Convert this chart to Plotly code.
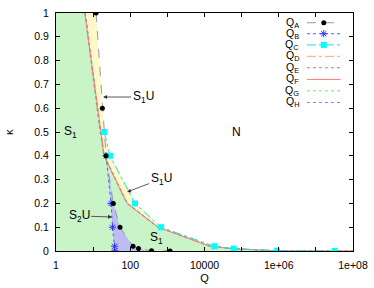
import math
import plotly.graph_objects as go

# ---------------- data ----------------
kappa_A = [1, 0.6, 0.4, 0.2, 0.1, 0.02, 0.01, 0.001, 0.0005]
Q_A = [12, 17.7, 22.3, 35, 53, 119, 167, 375, 1180]

kappa_B = [0.4, 0.2, 0.1, 0.02, 0.001]
Q_B = [22.3, 30.4, 33.3, 37.7, 38.5]

kappa_C = [0.5, 0.4, 0.2, 0.1, 0.02, 0.01, 0.001, 0.0005]
Q_C = [20, 28.5, 134, 675, 18500, 61000, 8.9e5, 3.2e7]

kappa_S = [1, 0.6, 0.5, 0.4, 0.2, 0.1, 0.02, 0.01, 0.001, 0]
Q_D = [6.0, 13.0, 15.4, 19.6, 81, 550, 13800, 54000, 7.9e5, 1e8]
Q_E = [6.1, 13.2, 15.6, 19.8, 83, 565, 14200, 56000, 8.1e5, 1e8]
Q_F = [6.0, 13.1, 15.5, 19.7, 82, 560, 14000, 55000, 8.0e5, 1e8]
Q_G = [5.9, 12.9, 15.3, 19.5, 80, 545, 13600, 53000, 7.8e5, 1e8]
Q_H = [6.2, 13.3, 15.7, 20.0, 84, 575, 14400, 57000, 8.2e5, 1e8]

x_tickvals = [1, 10, 100, 1e3, 1e4, 1e5, 1e6, 1e7, 1e8]
x_ticktext = ["1", "", "100", "", "10000", "", "1e+06", "", "1e+08"]
y_tickvals = [0, 0.1, 0.2, 0.3, 0.4, 0.5, 0.6, 0.7, 0.8, 0.9, 1]
y_ticktext = ["0", "0.1", "0.2", "0.3", "0.4", "0.5", "0.6", "0.7", "0.8", "0.9", "1"]

Q_MIN = 1

FONT = "Liberation Sans, Arial, sans-serif"

fig = go.Figure()

# ---------------- regions ----------------
gx = [Q_MIN] + Q_F + [Q_MIN]
gy = [1] + kappa_S + [0]
fig.add_trace(go.Scatter(x=gx, y=gy, fill="toself", fillcolor="#c8f4c8",
                         mode="none", hoverinfo="skip", showlegend=False))

bd_x = [q for q, k in zip(Q_F, kappa_S) if k > 0]
bd_y = [k for k in kappa_S if k > 0]
right_x = [q for q, k in zip(Q_A, kappa_A) if k > 0.5] + Q_C
right_y = [k for k in kappa_A if k > 0.5] + kappa_C
fig.add_trace(go.Scatter(x=bd_x + right_x[::-1], y=bd_y + right_y[::-1],
                         fill="toself", fillcolor="#fcf8c8",
                         mode="none", hoverinfo="skip", showlegend=False))

low_A = [(q, k) for q, k in zip(Q_A, kappa_A) if k <= 0.4 and q < 1000]
bx = Q_B + [q for q, k in low_A][::-1]
by = kappa_B + [k for q, k in low_A][::-1]
fig.add_trace(go.Scatter(x=bx, y=by, fill="toself", fillcolor="#bcbcf2",
                         mode="none", hoverinfo="skip", showlegend=False))

# ---------------- series ----------------
styles = {
    "A": dict(color="#9a9a9a", dash="dash", width=1),
    "B": dict(color="#5a5aff", dash="dot", width=1),
    "C": dict(color="#22dddd", dash="dashdot", width=1),
    "D": dict(color="#ffa080", dash="dashdot", width=1),
    "E": dict(color="#909090", dash="dot", width=1),
    "F": dict(color="#ff7878", dash="solid", width=1),
    "G": dict(color="#66ee66", dash="dot", width=1),
    "H": dict(color="#8080ff", dash="dot", width=1),
}
markers = {
    "A": dict(symbol="circle", size=5, color="black"),
    "B": dict(symbol="asterisk-open", size=6, color="#3030ff", line=dict(color="#3030ff", width=1)),
    "C": dict(symbol="square", size=6, color="#00ffff"),
}

for name, qx, ky in [("E", Q_E, kappa_S), ("D", Q_D, kappa_S), ("G", Q_G, kappa_S),
                     ("H", Q_H, kappa_S), ("F", Q_F, kappa_S)]:
    fig.add_trace(go.Scatter(x=qx, y=ky, mode="lines", line=styles[name],
                             showlegend=False, hoverinfo="skip"))

for name, qx, ky in [("B", Q_B, kappa_B), ("C", Q_C, kappa_C), ("A", Q_A, kappa_A)]:
    fig.add_trace(go.Scatter(x=qx, y=ky, mode="lines+markers", line=styles[name],
                             marker=markers[name], showlegend=False, hoverinfo="skip"))

# ---------------- manual legend (gnuplot style: text then sample) ----------------
names = ["A", "B", "C", "D", "E", "F", "G", "H"]
leg_y = [0.959, 0.913, 0.866, 0.818, 0.770, 0.721, 0.673, 0.624]
for name, ly in zip(names, leg_y):
    fig.add_trace(go.Scatter(x=[0.845, 0.958], y=[ly, ly], xaxis="x2", yaxis="y2",
                             mode="lines", line=styles[name], showlegend=False,
                             hoverinfo="skip"))
    if name in markers:
        fig.add_trace(go.Scatter(x=[0.9015], y=[ly], xaxis="x2", yaxis="y2",
                                 mode="markers", marker=markers[name],
                                 showlegend=False, hoverinfo="skip"))
    fig.add_annotation(x=0.822, y=ly, xref="x2", yref="y2", xanchor="right",
                       yanchor="middle", showarrow=False, borderpad=0,
                       text=f"Q<sub>{name}</sub>", font=dict(size=10.5, color="black"))

# ---------------- region labels ----------------
def lbl(x, y, t, **kw):
    fig.add_annotation(x=x, y=y, xref="x", yref="y", text=t,
                       font=dict(size=12, color="black"), **kw)

lbl(math.log10(2.5), 0.5, "S<sub>1</sub>", showarrow=False)
lbl(math.log10(71000), 0.5, "N", showarrow=False)
lbl(math.log10(496), 0.055, "S<sub>1</sub>", showarrow=False)
arrow = dict(showarrow=True, arrowhead=2, arrowsize=1, arrowwidth=0.8,
             arrowcolor="#333333", standoff=0)
lbl(math.log10(18.5), 0.647, "S<sub>1</sub>U", ax=40, ay=0, **arrow)
lbl(math.log10(82), 0.248, "S<sub>1</sub>U", ax=34, ay=-13, **arrow)
lbl(math.log10(32.4), 0.143, "S<sub>2</sub>U", ax=-33, ay=-1, **arrow)

# y-axis label (gnuplot places it far left)
fig.add_annotation(x=-0.158, y=0.5, xref="paper", yref="y2", text="κ", textangle=-90,
                   xanchor="center", showarrow=False, font=dict(size=11, color="black"))

fig.update_layout(
    width=374, height=288,
    margin=dict(l=56, r=21, t=13, b=37, autoexpand=False),
    paper_bgcolor="white", plot_bgcolor="white",
    font=dict(family=FONT, size=10.5, color="black"),
    xaxis=dict(type="log", range=[0, 8], tickvals=x_tickvals, ticktext=x_ticktext,
               ticks="inside", ticklen=4, tickcolor="black", mirror="ticks",
               showline=True, linecolor="black", linewidth=1, showgrid=False,
               zeroline=False, ticklabelstandoff=4, ticklabeloverflow="allow",
               automargin=False,
               title=dict(text="Q", font=dict(size=11), standoff=4)),
    yaxis=dict(range=[0, 1], tickvals=y_tickvals, ticktext=y_ticktext,
               ticks="inside", ticklen=4, tickcolor="black", mirror="ticks",
               showline=True, linecolor="black", linewidth=1, showgrid=False,
               zeroline=False, ticklabelstandoff=4, automargin=False),
    xaxis2=dict(overlaying="x", range=[0, 1], visible=False),
    yaxis2=dict(overlaying="y", range=[0, 1], visible=False),
    showlegend=False,
)

fig.write_html("out.html", config={"displayModeBar": False},
               post_script="document.body.style.margin='0';")
